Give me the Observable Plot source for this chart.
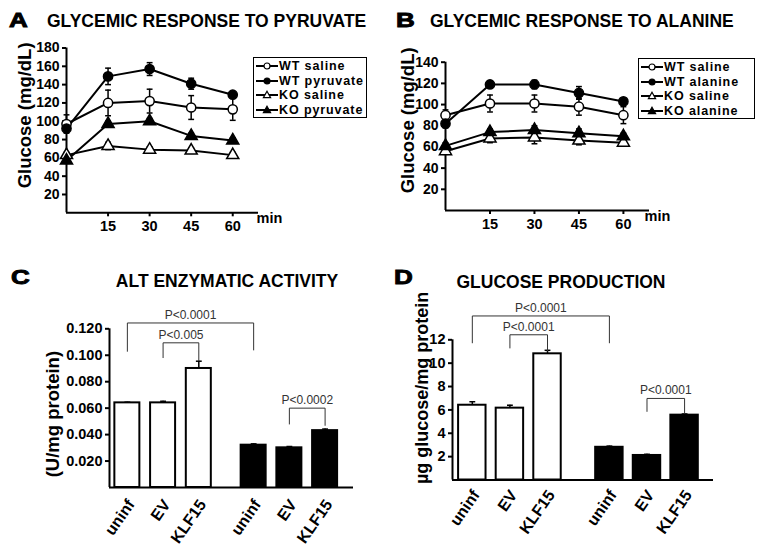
<!DOCTYPE html>
<html>
<head>
<meta charset="utf-8">
<script src="https://cdn.jsdelivr.net/npm/d3@7"></script>
<script src="https://cdn.jsdelivr.net/npm/@observablehq/plot@0.6"></script>
<style>
  html, body { margin: 0; padding: 0; background: #fff; }
  #fig { position: relative; width: 764px; height: 545px; overflow: hidden; background: #fff;
         font-family: "Liberation Sans", Arial, Helvetica, sans-serif; color: #000; }
  .letter { font-size: 20px; font-weight: bold; line-height: 1; -webkit-text-stroke: 0.9px #000;
            transform: scaleX(1.3); transform-origin: left top; white-space: nowrap; }
  .title { font-size: 17.5px; font-weight: bold; line-height: 1; white-space: nowrap; }
  .center { transform: translateX(-50%); }
  .legend { border: 1px solid #000; background: #fff; padding: 1px 0 0 2px; box-sizing: border-box; }
  .lrow { display: flex; align-items: center; height: 14.5px; font-size: 12.5px; font-weight: bold;
          letter-spacing: 0.9px; line-height: 14.5px; white-space: nowrap; }
  .lrow svg { flex: none; margin-right: 1px; }
</style>
</head>
<body>
<div id="fig"></div>
<script>
// ---------------- DATA ----------------
const minutes = [0, 15, 30, 45, 60];
const minuteTicks = [15, 30, 45, 60];

// Panel A: glycemic response to pyruvate (mg/dL)
const seriesPyruvate = ["WT saline", "WT pyruvate", "KO saline", "KO pyruvate"];
const pyrWtSaline      = [97, 120, 122, 115, 113];
const pyrWtSalineErr   = [10, 14, 13, 13, 12];
const pyrWtPyruvate    = [92, 149, 157, 141, 129];
const pyrWtPyruvateErr = [4, 9, 7, 6, 3];
const pyrKoSaline      = [63, 73, 69, 68, 63];
const pyrKoSalineErr   = [3, 4, 3, 3, 3];
const pyrKoPyruvate    = [57, 97, 100, 84, 79];
const pyrKoPyruvateErr = [3, 3, 3, 3, 3];
const pyruvateTicks = [20, 40, 60, 80, 100, 120, 140, 160, 180];

// Panel B: glycemic response to alanine (mg/dL)
const seriesAlanine = ["WT saline", "WT alanine", "KO saline", "KO alanine"];
const alaWtSaline      = [90, 101, 101, 98, 90];
const alaWtSalineErr   = [5, 8, 8, 8, 8];
const alaWtAlanine     = [82, 119, 119, 111, 103];
const alaWtAlanineErr  = [4, 3, 4, 6, 3];
const alaKoSaline      = [56, 68, 69, 66, 64];
const alaKoSalineErr   = [3, 4, 6, 4, 3];
const alaKoAlanine     = [61, 74, 76, 73, 70];
const alaKoAlanineErr  = [3, 3, 4, 4, 3];
const alanineTicks = [20, 40, 60, 80, 100, 120, 140];

// Panels C & D: hepatocyte groups (white bars, black bars) x conditions
const cellGroups = ["WT", "KO"];
const conditions = ["uninf", "EV", "KLF15"];

const altWt    = [0.064, 0.064, 0.090];
const altWtErr = [0.0005, 0.0012, 0.0055];
const altKo    = [0.032, 0.030, 0.043];
const altKoErr = [0.001, 0.001, 0.0012];
const altTicks = [0.02, 0.04, 0.06, 0.08, 0.10, 0.12];
const altPairs = [["WT uninf", "KO uninf"], ["WT EV", "WT KLF15"], ["KO EV", "KO KLF15"]];
const altPValues = ["P<0.0001", "P<0.005", "P<0.0002"];

const glcWt    = [6.4, 6.15, 10.8];
const glcWtErr = [0.3, 0.25, 0.3];
const glcKo    = [2.8, 2.1, 5.55];
const glcKoErr = [0.1, 0.1, 0.1];
const glcTicks = [2, 4, 6, 8, 10, 12];
const glcPairs = [["WT uninf", "KO uninf"], ["WT EV", "WT KLF15"], ["KO EV", "KO KLF15"]];
const glcPValues = ["P<0.0001", "P<0.0001", "P<0.0001"];

// ---------------- RENDERING ----------------
const fontFamily = '"Liberation Sans", Arial, Helvetica, sans-serif';
const fig = document.getElementById("fig");
const svgStyle = {fontFamily, fontSize: "14px", fontWeight: "bold", color: "black",
                  background: "transparent", overflow: "visible"};

function place(el, left, top) {
  el.style.position = "absolute";
  el.style.left = left + "px";
  el.style.top = top + "px";
  fig.appendChild(el);
  return el;
}
function htmlText(cls, text, left, top) {
  const d = document.createElement("div");
  d.className = cls;
  d.textContent = text;
  return place(d, left, top);
}

// horizontal cap for error bars (size in px)
const capSymbol = {
  draw(ctx, size) { const w = Math.sqrt(size); ctx.moveTo(-w / 2, 0); ctx.lineTo(w / 2, 0); }
};

function linePanel(cfg) {
  const rows = [];
  cfg.names.forEach((name, i) => {
    cfg.values[i].forEach((v, j) => rows.push({
      series: name, t: minutes[j], y: v, err: cfg.errors[i][j], tri: i >= 2
    }));
  });
  return Plot.plot({
    width: 382, height: 215,
    marginLeft: cfg.ml, marginRight: cfg.mr, marginTop: cfg.mt, marginBottom: cfg.mb,
    style: svgStyle,
    x: {domain: [0, cfg.xMax]},
    y: {domain: [0, cfg.yMax]},
    color: {domain: cfg.names, range: ["white", "black", "white", "black"]},
    symbol: {domain: cfg.names, range: ["circle", "circle", "triangle", "triangle"]},
    marks: [
      Plot.ruleY([0], {stroke: "black", strokeWidth: 2}),
      Plot.ruleX([0], {y1: 0, y2: cfg.yMax, stroke: "black", strokeWidth: 2}),
      Plot.axisX({ticks: minuteTicks, tickSize: 4, tickPadding: 4, strokeWidth: 2, label: null, fontSize: 14.5}),
      Plot.axisY({ticks: cfg.ticks, tickSize: 4, tickPadding: 3, strokeWidth: 2, label: null, fontSize: 14}),
      Plot.text(["min"], {frameAnchor: "bottom-right", textAnchor: "start", dx: cfg.minDx, dy: 10, fontSize: 14.5}),
      Plot.text([cfg.yLabel], {frameAnchor: "left", rotate: -90, textAnchor: "middle",
                               dx: cfg.labelDx, dy: cfg.labelDy, fontSize: 18.5}),
      Plot.line(rows, {x: "t", y: "y", z: "series", stroke: "black", strokeWidth: 2}),
      Plot.ruleX(rows, {x: "t", y1: d => d.y - d.err, y2: d => d.y + d.err, stroke: "black", strokeWidth: 1.5}),
      Plot.dot(rows, {x: "t", y: d => d.y + d.err, symbol: capSymbol, r: 3.3, stroke: "black", strokeWidth: 1.5}),
      Plot.dot(rows, {x: "t", y: d => d.y - d.err, symbol: capSymbol, r: 3.3, stroke: "black", strokeWidth: 1.5}),
      Plot.dot(rows.filter(d => !d.tri), {x: "t", y: "y", symbol: "series", fill: "series",
                                          stroke: "black", strokeWidth: 1.5, r: 4.6}),
      Plot.dot(rows.filter(d => d.tri), {x: "t", y: "y", symbol: "series", fill: "series",
                                         stroke: "black", strokeWidth: 1.5, r: 4.5})
    ]
  });
}

function barPanel(cfg) {
  const nC = conditions.length;
  const posOf = (gi, ci) => gi * (nC + cfg.gap) + ci;
  const rows = [];
  cellGroups.forEach((g, gi) => conditions.forEach((c, ci) => rows.push({
    group: g, cond: c, pos: posOf(gi, ci), mean: cfg.means[gi][ci], err: cfg.errs[gi][ci]
  })));
  const keyPos = key => {
    const [g, c] = key.split(" ");
    return posOf(cellGroups.indexOf(g), conditions.indexOf(c));
  };
  const brackets = cfg.pairs.map(([a, b], k) => ({
    id: k, xa: keyPos(a), xb: keyPos(b), top: cfg.levels[k],
    legA: cfg.legsA[k], legB: cfg.legsB[k], text: cfg.pValues[k]
  }));
  const pts = brackets.flatMap(b => [
    {id: b.id, x: b.xa, y: b.legA}, {id: b.id, x: b.xa, y: b.top},
    {id: b.id, x: b.xb, y: b.top}, {id: b.id, x: b.xb, y: b.legB}
  ]);
  const half = cfg.barWidth / 2;
  return Plot.plot({
    width: 382, height: 255,
    marginLeft: cfg.ml, marginRight: cfg.mr, marginTop: cfg.mt, marginBottom: cfg.mb,
    style: svgStyle,
    x: {domain: cfg.xDomain, axis: null},
    y: {domain: [0, cfg.yMax]},
    color: {domain: cellGroups, range: ["white", "black"]},
    marks: [
      Plot.ruleX(rows, {x: "pos", y1: "mean", y2: d => d.mean + d.err, stroke: "black", strokeWidth: 1.5}),
      Plot.dot(rows, {x: "pos", y: d => d.mean + d.err, symbol: capSymbol, r: 3.3, stroke: "black", strokeWidth: 1.5}),
      Plot.rect(rows, {x1: d => d.pos - half, x2: d => d.pos + half, y1: 0, y2: "mean",
                       fill: "group", stroke: "black", strokeWidth: 2}),
      Plot.ruleY([0], {stroke: "black", strokeWidth: 2}),
      Plot.ruleX([cfg.xDomain[0]], {y1: 0, y2: cfg.yMax, stroke: "black", strokeWidth: 2}),
      Plot.axisY({ticks: cfg.ticks, tickFormat: cfg.tickFormat, tickSize: 4, tickPadding: 3,
                  strokeWidth: 2, label: null, fontSize: 14.5}),
      Plot.text(rows, {x: "pos", text: "cond", frameAnchor: "bottom", rotate: -55, textAnchor: "end",
                       dx: cfg.tickDx, dy: cfg.tickDy, fontSize: 16}),
      Plot.line(pts, {x: "x", y: "y", z: "id", stroke: "#333", strokeWidth: 1}),
      Plot.text(brackets, {x: d => (d.xa + d.xb) / 2, y: "top", text: "text", dy: -8,
                           fontSize: 12, fontWeight: "normal", fill: "#333"}),
      Plot.text([cfg.yLabel], {frameAnchor: "left", rotate: -90, textAnchor: "middle",
                               dx: cfg.labelDx, dy: cfg.labelDy, fontSize: cfg.labelSize})
    ]
  });
}

function legend(names, left, top, width, height) {
  const box = document.createElement("div");
  box.className = "legend";
  box.style.width = width + "px";
  box.style.height = height + "px";
  names.forEach((name, i) => {
    const row = document.createElement("div");
    row.className = "lrow";
    const fill = i % 2 === 1 ? "#000" : "#fff";
    const sym = i >= 2
      ? `<polygon points="11,2.2 14.6,8.6 7.4,8.6" fill="${fill}" stroke="#000" stroke-width="1.2"/>`
      : `<circle cx="11" cy="6" r="3" fill="${fill}" stroke="#000" stroke-width="1.2"/>`;
    row.innerHTML = `<svg width="22" height="12" viewBox="0 0 22 12"><line x1="0" y1="6" x2="22" y2="6" stroke="#000" stroke-width="2"/>${sym}</svg>`;
    const span = document.createElement("span");
    span.textContent = name;
    row.appendChild(span);
    box.appendChild(row);
  });
  return place(box, left, top);
}

// Panel A
place(linePanel({
  names: seriesPyruvate,
  values: [pyrWtSaline, pyrWtPyruvate, pyrKoSaline, pyrKoPyruvate],
  errors: [pyrWtSalineErr, pyrWtPyruvateErr, pyrKoSalineErr, pyrKoPyruvateErr],
  ticks: pyruvateTicks, yMax: 180, xMax: 69.3,
  ml: 66, mr: 124, mt: 17.5, mb: 32.7,
  yLabel: "Glucose (mg/dL)", labelDx: -41, labelDy: -15, minDx: -2
}), 0, 30);
legend(seriesPyruvate, 253, 57, 114, 61);
htmlText("letter", "A", 9, 10);
htmlText("title", "GLYCEMIC RESPONSE TO PYRUVATE", 47, 13);

// Panel B
place(linePanel({
  names: seriesAlanine,
  values: [alaWtSaline, alaWtAlanine, alaKoSaline, alaKoAlanine],
  errors: [alaWtSalineErr, alaWtAlanineErr, alaKoSalineErr, alaKoAlanineErr],
  ticks: alanineTicks, yMax: 140, xMax: 68.8,
  ml: 63, mr: 115, mt: 31.7, mb: 35,
  yLabel: "Glucose (mg/dL)", labelDx: -37, labelDy: -16, minDx: -5
}), 382, 30);
legend(seriesAlanine, 638, 58, 117, 61);
htmlText("letter", "B", 396, 10);
htmlText("title", "GLYCEMIC RESPONSE TO ALANINE", 430, 13);

// Panel C
place(barPanel({
  means: [altWt, altKo], errs: [altWtErr, altKoErr],
  ticks: altTicks, tickFormat: d3.format(".3f"), yMax: 0.12,
  xDomain: [-0.50, 6.33], gap: 0.535, barWidth: 0.70,
  ml: 109, mr: 29, mt: 38.3, mb: 58,
  pairs: altPairs, pValues: altPValues,
  levels: [0.1244, 0.1094, 0.060], legsA: [0.103, 0.0982, 0.048], legsB: [0.104, 0.096, 0.047],
  yLabel: "(U/mg protein)", labelDx: -56, labelDy: 6, labelSize: 18.5,
  tickDx: 8, tickDy: 17
}), 0, 290);
htmlText("letter", "C", 11, 267);
htmlText("title center", "ALT ENZYMATIC ACTIVITY", 227, 273);

// Panel D
place(barPanel({
  means: [glcWt, glcKo], errs: [glcWtErr, glcKoErr],
  ticks: glcTicks, tickFormat: d3.format("d"), yMax: 12,
  xDomain: [-0.527, 6.415], gap: 0.646, barWidth: 0.73,
  ml: 70, mr: 51, mt: 49.3, mb: 65.5,
  pairs: glcPairs, pValues: glcPValues,
  levels: [14.04, 12.43, 6.98], legsA: [11.74, 11.3, 5.87], legsB: [11.74, 11.05, 5.7],
  yLabel: "µg glucose/mg protein", labelDx: -30, labelDy: -22, labelSize: 18,
  tickDx: 8, tickDy: 15
}), 382, 290);
htmlText("letter", "D", 394, 267);
htmlText("title center", "GLUCOSE PRODUCTION", 561, 274);
</script>
</body>
</html>
